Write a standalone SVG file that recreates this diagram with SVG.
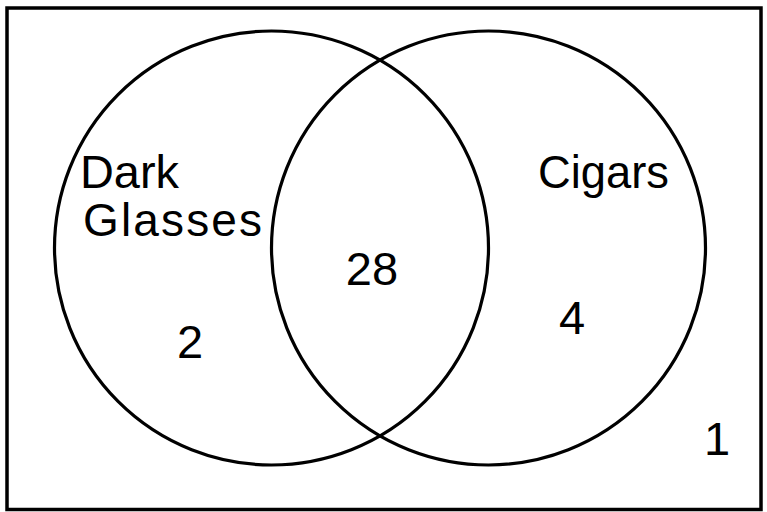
<svg xmlns="http://www.w3.org/2000/svg" width="767" height="512" viewBox="0 0 767 512">
<style>
.c{fill:none;stroke:#000;stroke-width:3.2}
.t{font-family:"Liberation Sans",Arial,Helvetica,sans-serif;font-size:46px;fill:#000}
.n{font-family:"Liberation Sans",Arial,Helvetica,sans-serif;font-size:47px;fill:#000;text-anchor:middle}
</style>
<rect x="0" y="0" width="767" height="512" fill="#fff"/>
<g id="frame"><rect x="7" y="8" width="754" height="501.5" fill="none" stroke="#000" stroke-width="3.5"/></g>
<g id="dark-glasses">
<circle class="c" cx="271.5" cy="248" r="217"/>
<text class="t" x="80" y="188" textLength="99" lengthAdjust="spacingAndGlyphs">Dark</text>
<text class="t" x="83" y="236" textLength="179" lengthAdjust="spacing">Glasses</text>
</g>
<g id="cigars">
<circle class="c" cx="488.5" cy="248" r="217"/>
<text class="t" x="538" y="188" textLength="131" lengthAdjust="spacingAndGlyphs">Cigars</text>
</g>
<g id="counts">
<text class="n" x="372" y="285">28</text>
<text class="n" x="190" y="358">2</text>
<text class="n" x="572" y="334">4</text>
<text class="n" x="717" y="455">1</text>
</g>
<g id="connectors"></g>
</svg>
